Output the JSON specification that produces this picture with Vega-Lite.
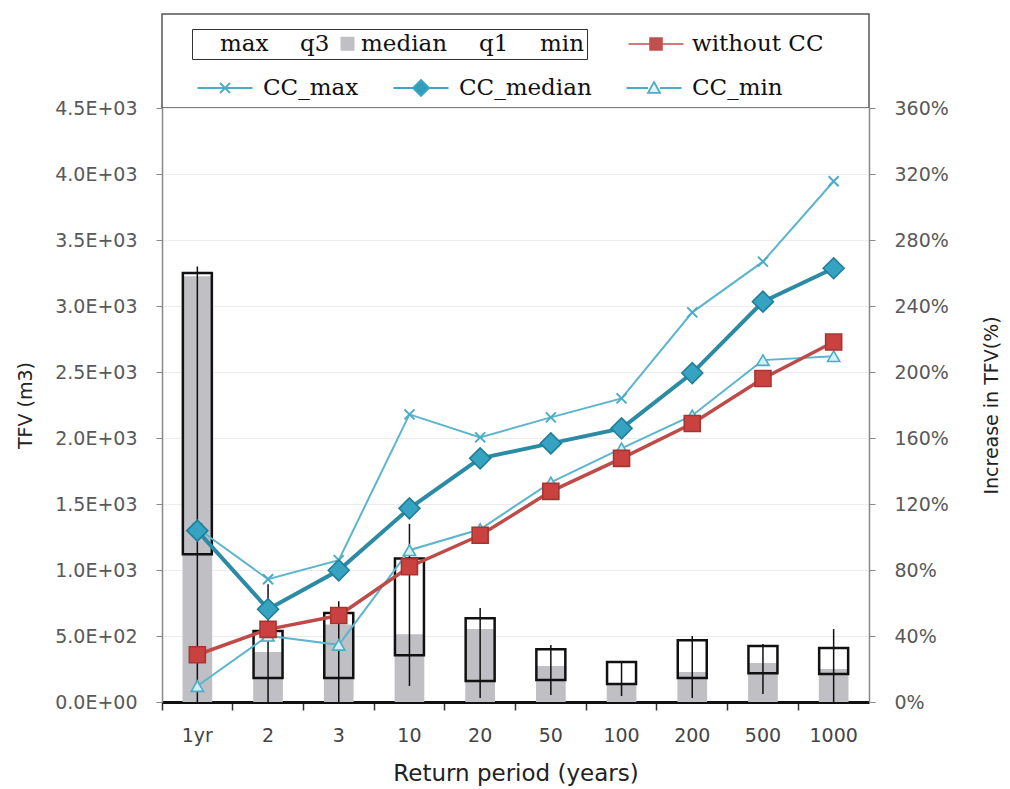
{
  "$schema": "https://vega.github.io/schema/vega-lite/v6.json",
  "background": "white",
  "padding": {"left": 16, "top": 13, "right": 2, "bottom": 2},
  "config": {"font": "DejaVu Sans", "view": {"stroke": null}},
  "datasets": {
    "boxes": [
      {"rp": "1yr", "min": 0, "q1": 89.6, "median": 258, "q3": 260, "max": 264},
      {"rp": "2", "min": 0, "q1": 14.5, "median": 30.3, "q3": 43, "max": 71.4},
      {"rp": "3", "min": 0, "q1": 14.5, "median": 47, "q3": 53.9, "max": 61},
      {"rp": "10", "min": 9.7, "q1": 28.4, "median": 41, "q3": 87, "max": 108},
      {"rp": "20", "min": 2.4, "q1": 12.7, "median": 44.2, "q3": 50.8, "max": 56.9},
      {"rp": "50", "min": 4.2, "q1": 13.3, "median": 21.8, "q3": 32, "max": 34.5},
      {"rp": "100", "min": 3.6, "q1": 10.9, "median": 10.5, "q3": 24.2, "max": 24.2},
      {"rp": "200", "min": 2.4, "q1": 14.5, "median": 18.2, "q3": 37.5, "max": 40},
      {"rp": "500", "min": 4.8, "q1": 17.5, "median": 23.6, "q3": 33.9, "max": 35.1},
      {"rp": "1000", "min": 0, "q1": 16.9, "median": 20, "q3": 32.7, "max": 44.2}
    ],
    "lines": [
      {"rp": "1yr", "series": "CC_max", "tfv": 1316},
      {"rp": "2", "series": "CC_max", "tfv": 930},
      {"rp": "3", "series": "CC_max", "tfv": 1075},
      {"rp": "10", "series": "CC_max", "tfv": 2179},
      {"rp": "20", "series": "CC_max", "tfv": 2005},
      {"rp": "50", "series": "CC_max", "tfv": 2156},
      {"rp": "100", "series": "CC_max", "tfv": 2300},
      {"rp": "200", "series": "CC_max", "tfv": 2952},
      {"rp": "500", "series": "CC_max", "tfv": 3336},
      {"rp": "1000", "series": "CC_max", "tfv": 3945},
      {"rp": "1yr", "series": "CC_min", "tfv": 121},
      {"rp": "2", "series": "CC_min", "tfv": 502},
      {"rp": "3", "series": "CC_min", "tfv": 433},
      {"rp": "10", "series": "CC_min", "tfv": 1150},
      {"rp": "20", "series": "CC_min", "tfv": 1309},
      {"rp": "50", "series": "CC_min", "tfv": 1664},
      {"rp": "100", "series": "CC_min", "tfv": 1921},
      {"rp": "200", "series": "CC_min", "tfv": 2171},
      {"rp": "500", "series": "CC_min", "tfv": 2590},
      {"rp": "1000", "series": "CC_min", "tfv": 2620},
      {"rp": "1yr", "series": "CC_median", "tfv": 1298},
      {"rp": "2", "series": "CC_median", "tfv": 703},
      {"rp": "3", "series": "CC_median", "tfv": 998},
      {"rp": "10", "series": "CC_median", "tfv": 1467},
      {"rp": "20", "series": "CC_median", "tfv": 1846},
      {"rp": "50", "series": "CC_median", "tfv": 1959},
      {"rp": "100", "series": "CC_median", "tfv": 2073},
      {"rp": "200", "series": "CC_median", "tfv": 2492},
      {"rp": "500", "series": "CC_median", "tfv": 3033},
      {"rp": "1000", "series": "CC_median", "tfv": 3286},
      {"rp": "1yr", "series": "without CC", "tfv": 358},
      {"rp": "2", "series": "without CC", "tfv": 550},
      {"rp": "3", "series": "without CC", "tfv": 655},
      {"rp": "10", "series": "without CC", "tfv": 1025},
      {"rp": "20", "series": "without CC", "tfv": 1263},
      {"rp": "50", "series": "without CC", "tfv": 1596},
      {"rp": "100", "series": "without CC", "tfv": 1846},
      {"rp": "200", "series": "without CC", "tfv": 2110},
      {"rp": "500", "series": "without CC", "tfv": 2451},
      {"rp": "1000", "series": "without CC", "tfv": 2727}
    ]
  },
  "spacing": 0,
  "bounds": "flush",
  "resolve": {
    "scale": {"color": "independent", "fill": "independent", "shape": "independent", "stroke": "independent"},
    "legend": {"color": "independent", "fill": "independent", "shape": "independent", "stroke": "independent"}
  },
  "vconcat": [
    {
      "width": 707,
      "height": 94,
      "view": {"stroke": "#555", "strokeWidth": 1.5},
      "resolve": {
        "scale": {"fill": "independent", "shape": "independent", "stroke": "independent"},
        "legend": {"fill": "independent", "shape": "independent", "stroke": "independent"}
      },
      "layer": [
        {
          "data": {"name": "boxes"},
          "transform": [{"fold": ["max", "q3", "median", "q1", "min"], "as": ["part", "value"]}],
          "mark": {"type": "point", "filled": true, "opacity": 0},
          "encoding": {
            "fill": {
              "field": "part", "type": "nominal",
              "scale": {"domain": ["max", "q3", "median", "q1", "min"], "range": ["transparent", "transparent", "#bfbfc4", "transparent", "transparent"]},
              "legend": {"orient": "none", "legendX": 30, "legendY": 15, "direction": "horizontal", "title": null,
                "symbolType": "square", "symbolSize": 196, "symbolOpacity": 1, "symbolStrokeWidth": 0,
                "labelFont": "DejaVu Serif", "labelFontSize": 23, "labelColor": "#111", "labelOffset": 2,
                "columnPadding": 6, "strokeColor": "#333", "padding": 3}
            }
          }
        },
        {
          "data": {"name": "lines"},
          "transform": [{"filter": "datum.series == 'without CC'"}],
          "mark": {"type": "point", "filled": true, "opacity": 0},
          "encoding": {
            "fill": {
              "field": "series", "type": "nominal",
              "scale": {"domain": ["without CC"], "range": ["#c0504d"]},
              "legend": {"orient": "none", "legendX": 473, "legendY": 9, "title": null, "symbolSize": 1600, "symbolOpacity": 1,
                "symbolStrokeWidth": 1.6,
                "labelFont": "DejaVu Serif", "labelFontSize": 23, "labelColor": "#111", "labelOffset": 15, "padding": 0}
            },
            "stroke": {
              "field": "series", "type": "nominal",
              "scale": {"domain": ["without CC"], "range": ["#c0504d"]},
              "legend": {"orient": "none", "legendX": 473, "legendY": 9, "title": null, "symbolSize": 1600, "symbolOpacity": 1,
                "symbolStrokeWidth": 1.6,
                "labelFont": "DejaVu Serif", "labelFontSize": 23, "labelColor": "#111", "labelOffset": 15, "padding": 0}
            },
            "shape": {
              "field": "series", "type": "nominal",
              "scale": {"domain": ["without CC"], "range": ["M-1.375,0H-0.3M0.3,0H1.375M-0.3,-0.3H0.3V0.3H-0.3Z"]},
              "legend": {"orient": "none", "legendX": 473, "legendY": 9, "title": null, "symbolSize": 1600, "symbolOpacity": 1,
                "symbolStrokeWidth": 1.6,
                "labelFont": "DejaVu Serif", "labelFontSize": 23, "labelColor": "#111", "labelOffset": 15, "padding": 0}
            }
          }
        },
        {
          "data": {"name": "lines"},
          "transform": [{"filter": "datum.series != 'without CC'"}],
          "mark": {"type": "point", "filled": true, "opacity": 0},
          "encoding": {
            "fill": {
              "field": "series", "type": "nominal",
              "scale": {"domain": ["CC_max", "CC_median", "CC_min"], "range": ["#4bacc6", "#2f9dbb", "#e3f4f8"]},
              "legend": {"orient": "none", "legendX": 42, "legendY": 53, "direction": "horizontal", "title": null, "symbolSize": 1600, "symbolOpacity": 1,
                "symbolStrokeWidth": 1.8,
                "labelFont": "DejaVu Serif", "labelFontSize": 23, "labelColor": "#111", "labelOffset": 17, "columnPadding": 30, "padding": 0}
            },
            "stroke": {
              "field": "series", "type": "nominal",
              "scale": {"domain": ["CC_max", "CC_median", "CC_min"], "range": ["#4bacc6", "#3aa5c2", "#4bacc6"]},
              "legend": {"orient": "none", "legendX": 42, "legendY": 53, "direction": "horizontal", "title": null, "symbolSize": 1600, "symbolOpacity": 1,
                "symbolStrokeWidth": 1.8,
                "labelFont": "DejaVu Serif", "labelFontSize": 23, "labelColor": "#111", "labelOffset": 17, "columnPadding": 30, "padding": 0}
            },
            "shape": {
              "field": "series", "type": "nominal",
              "scale": {"domain": ["CC_max", "CC_median", "CC_min"], "range": [
                "M-1.375,0H1.375M-0.25,-0.25L0.25,0.25M-0.25,0.25L0.25,-0.25",
                "M-1.375,0H-0.4M0.4,0H1.375M0,-0.4L0.4,0L0,0.4L-0.4,0Z",
                "M-1.375,0H-0.3M0.3,0H1.375M0,-0.3L0.3,0.24L-0.3,0.24Z"]},
              "legend": {"orient": "none", "legendX": 42, "legendY": 53, "direction": "horizontal", "title": null, "symbolSize": 1600, "symbolOpacity": 1,
                "symbolStrokeWidth": 1.8,
                "labelFont": "DejaVu Serif", "labelFontSize": 23, "labelColor": "#111", "labelOffset": 17, "columnPadding": 30, "padding": 0}
            }
          }
        }
      ]
    },
    {
      "width": 707,
      "height": 594,
      "resolve": {"scale": {"y": "independent"}, "axis": {"y": "independent"}},
      "encoding": {
        "x": {
          "field": "rp", "type": "nominal",
          "scale": {"domain": ["1yr", "2", "3", "10", "20", "50", "100", "200", "500", "1000"], "paddingInner": 0, "paddingOuter": 0},
          "axis": {"title": "Return period (years)", "labelAngle": 0, "bandPosition": 0,
            "domainColor": "#111", "domainWidth": 3, "tickColor": "#333", "tickWidth": 1.5, "tickSize": 8,
            "labelFont": "DejaVu Sans", "labelFontSize": 19, "labelColor": "#444", "labelPadding": 16,
            "titleFont": "DejaVu Sans", "titleFontSize": 23, "titleFontWeight": "normal", "titleColor": "#222", "titlePadding": 17}
        }
      },
      "layer": [
        {
          "data": {"name": "boxes"},
          "layer": [
            {
              "mark": {"type": "bar", "width": {"band": 0.42}, "color": "#bfbfc4"},
              "encoding": {
                "y": {"field": "median", "type": "quantitative",
                  "scale": {"domain": [0, 360], "nice": false},
                  "axis": {"orient": "right", "values": [0, 40, 80, 120, 160, 200, 240, 280, 320, 360], "labelExpr": "datum.value + '%'",
                    "grid": false, "title": "Increase in TFV(%)", "titleAngle": 270, "titleFont": "DejaVu Sans", "titleFontSize": 19,
                    "titleFontWeight": "normal", "titleColor": "#222", "titlePadding": 53,
                    "labelFont": "DejaVu Sans", "labelFontSize": 19, "labelColor": "#595959", "labelPadding": 19,
                    "tickSize": 6, "tickColor": "#888", "domainColor": "#888", "domainWidth": 1.5}}
              }
            },
            {
              "mark": {"type": "rule", "color": "#111", "strokeWidth": 1.5},
              "encoding": {
                "y": {"field": "min", "type": "quantitative"},
                "y2": {"field": "max"}
              }
            },
            {
              "mark": {"type": "bar", "width": {"band": 0.41}, "fill": "transparent", "stroke": "#111", "strokeWidth": 2.5},
              "encoding": {
                "y": {"field": "q1", "type": "quantitative"},
                "y2": {"field": "q3"}
              }
            }
          ]
        },
        {
          "data": {"name": "lines"},
          "layer": [
            {
              "transform": [{"filter": "datum.series == 'CC_max'"}],
              "mark": {"type": "line", "color": "#5bb5cc", "strokeWidth": 2},
              "encoding": {
                "y": {"field": "tfv", "type": "quantitative",
                  "scale": {"domain": [0, 4500], "nice": false},
                  "axis": {"orient": "left", "values": [0, 500, 1000, 1500, 2000, 2500, 3000, 3500, 4000, 4500],
                    "labelExpr": "replace(upper(format(datum.value, '.1e')), 'E+', 'E+0')",
                    "grid": true, "gridColor": "#ececec", "title": "TFV (m3)", "titleFont": "DejaVu Sans", "titleFontSize": 19,
                    "titleFontWeight": "normal", "titleColor": "#222", "titlePadding": 19,
                    "labelFont": "DejaVu Sans", "labelFontSize": 19, "labelColor": "#595959", "labelPadding": 19,
                    "tickSize": 6, "tickColor": "#888", "domainColor": "#888", "domainWidth": 1.5}}
              }
            },
            {
              "transform": [{"filter": "datum.series == 'CC_max'"}],
              "mark": {"type": "point", "shape": "M-1,-1L1,1M-1,1L1,-1", "size": 100, "filled": false, "stroke": "#4bacc6", "strokeWidth": 2, "opacity": 1},
              "encoding": {"y": {"field": "tfv", "type": "quantitative"}}
            },
            {
              "transform": [{"filter": "datum.series == 'CC_min'"}],
              "mark": {"type": "line", "color": "#5bb5cc", "strokeWidth": 2},
              "encoding": {"y": {"field": "tfv", "type": "quantitative"}}
            },
            {
              "transform": [{"filter": "datum.series == 'CC_min'"}],
              "mark": {"type": "point", "shape": "triangle-up", "size": 150, "filled": true, "fill": "#d4eef5", "stroke": "#4bacc6", "strokeWidth": 1.6, "opacity": 1},
              "encoding": {"y": {"field": "tfv", "type": "quantitative"}}
            },
            {
              "transform": [{"filter": "datum.series == 'without CC'"}],
              "mark": {"type": "line", "color": "#bf4b49", "strokeWidth": 3.5},
              "encoding": {"y": {"field": "tfv", "type": "quantitative"}}
            },
            {
              "transform": [{"filter": "datum.series == 'without CC'"}],
              "mark": {"type": "point", "shape": "square", "size": 256, "filled": true, "fill": "#c9423f", "stroke": "#a83432", "strokeWidth": 1.6, "opacity": 1},
              "encoding": {"y": {"field": "tfv", "type": "quantitative"}}
            },
            {
              "transform": [{"filter": "datum.series == 'CC_median'"}],
              "mark": {"type": "line", "color": "#2b8ba5", "strokeWidth": 4},
              "encoding": {"y": {"field": "tfv", "type": "quantitative"}}
            },
            {
              "transform": [{"filter": "datum.series == 'CC_median'"}],
              "mark": {"type": "point", "shape": "diamond", "size": 440, "filled": true, "fill": "#35a3c1", "stroke": "#1f7f99", "strokeWidth": 1.6, "opacity": 1},
              "encoding": {"y": {"field": "tfv", "type": "quantitative"}}
            }
          ]
        }
      ]
    }
  ]
}
